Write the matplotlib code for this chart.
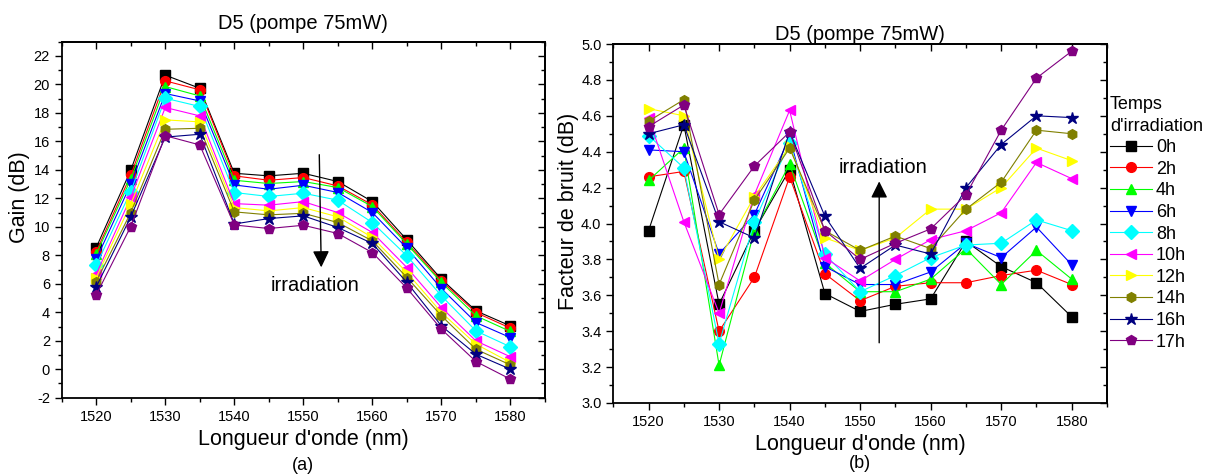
import matplotlib.pyplot as plt

plt.rcParams['font.family'] = ['Liberation Sans', 'DejaVu Sans']
plt.rcParams['axes.unicode_minus'] = False

# wavelengths (nm)
wl = [1520, 1525, 1530, 1535, 1540, 1545, 1550, 1555, 1560, 1565, 1570, 1575, 1580]

labels = ['0h', '2h', '4h', '6h', '8h', '10h', '12h', '14h', '16h', '17h']
colors = ['#000000', '#ff0000', '#00ff00', '#0000ff', '#00ffff',
          '#ff00ff', '#ffff00', '#808000', '#000080', '#800080']
markers = ['s', 'o', '^', 'v', 'D', '<', '>', 'h', '*', 'p']

# Gain (dB) - graphe (a)
gain_0h = [8.54, 13.97, 20.65, 19.73, 13.76, 13.58, 13.76, 13.18, 11.77, 9.08, 6.32, 4.10, 3.04]
gain_2h = [8.26, 13.62, 20.25, 19.62, 13.58, 13.27, 13.46, 12.87, 11.54, 8.90, 6.20, 3.98, 2.88]
gain_4h = [8.08, 13.34, 19.85, 19.19, 13.27, 13.04, 13.18, 12.76, 11.42, 8.78, 6.09, 3.75, 2.65]
gain_6h = [7.72, 12.99, 19.36, 18.84, 12.94, 12.64, 12.92, 12.41, 11.00, 8.50, 5.66, 3.28, 2.22]
gain_8h = [7.30, 12.48, 19.03, 18.45, 12.41, 12.13, 12.36, 11.87, 10.30, 7.96, 5.15, 2.69, 1.57]
gain_10h = [6.67, 12.06, 18.38, 17.79, 11.63, 11.52, 11.77, 11.00, 9.60, 7.14, 4.33, 1.99, 0.87]
gain_12h = [6.44, 11.59, 17.51, 17.37, 11.35, 11.12, 11.35, 10.70, 9.25, 6.79, 3.98, 1.76, 0.47]
gain_14h = [6.16, 11.00, 16.85, 16.92, 11.05, 10.84, 10.95, 10.30, 9.01, 6.44, 3.75, 1.40, 0.30]
gain_16h = [5.78, 10.70, 16.30, 16.50, 10.20, 10.58, 10.77, 9.95, 8.83, 6.09, 3.04, 1.05, 0.00]
gain_17h = [5.22, 10.02, 16.40, 15.75, 10.13, 9.88, 10.11, 9.53, 8.19, 5.69, 2.81, 0.54, -0.70]

# Facteur de bruit (dB) - graphe (b)
nf_0h = [3.96, 4.55, 3.55, 3.96, 4.30, 3.61, 3.51, 3.55, 3.58, 3.90, 3.76, 3.67, 3.48]
nf_2h = [4.26, 4.29, 3.40, 3.70, 4.26, 3.72, 3.57, 3.65, 3.67, 3.67, 3.71, 3.74, 3.66]
nf_4h = [4.24, 4.42, 3.21, 3.96, 4.33, 3.78, 3.62, 3.62, 3.69, 3.86, 3.66, 3.85, 3.69]
nf_6h = [4.41, 4.40, 3.83, 4.05, 4.48, 3.76, 3.66, 3.66, 3.73, 3.89, 3.81, 3.98, 3.77]
nf_8h = [4.49, 4.31, 3.33, 4.01, 4.45, 3.83, 3.62, 3.71, 3.81, 3.88, 3.89, 4.02, 3.96]
nf_10h = [4.59, 4.01, 3.50, 4.16, 4.63, 3.81, 3.68, 3.80, 3.91, 3.96, 4.06, 4.34, 4.25]
nf_12h = [4.64, 4.60, 3.80, 4.15, 4.43, 3.92, 3.85, 3.92, 4.08, 4.08, 4.20, 4.42, 4.35]
nf_14h = [4.57, 4.69, 3.66, 4.13, 4.42, 3.96, 3.85, 3.93, 3.86, 4.08, 4.23, 4.52, 4.50]
nf_16h = [4.50, 4.55, 4.01, 3.92, 4.51, 4.04, 3.75, 3.88, 3.83, 4.20, 4.44, 4.60, 4.59]
nf_17h = [4.54, 4.66, 4.05, 4.32, 4.51, 3.96, 3.80, 3.89, 3.97, 4.16, 4.52, 4.81, 4.96]

gains = [gain_0h, gain_2h, gain_4h, gain_6h, gain_8h, gain_10h, gain_12h, gain_14h, gain_16h, gain_17h]
nfs = [nf_0h, nf_2h, nf_4h, nf_6h, nf_8h, nf_10h, nf_12h, nf_14h, nf_16h, nf_17h]

fig = plt.figure(figsize=(12.11, 4.75), dpi=100)
ax1 = fig.add_axes([61.7 / 1211, 1 - 397.7 / 475, 483.3 / 1211, 356 / 475])
ax2 = fig.add_axes([613.3 / 1211, 1 - 403 / 475, 493.7 / 1211, 359 / 475])


def draw(ax, data):
    for y, c, m, lab in zip(data, colors, markers, labels):
        ms = 9 if m == '*' else 7
        ax.plot(wl, y, color=c, marker=m, ms=ms, mec=c, mfc=c, lw=0.8, label=lab)


def style(ax):
    ax.set_xlim(1515, 1585)
    ax.set_xticks([1520, 1530, 1540, 1550, 1560, 1570, 1580])
    ax.set_xticks([1515, 1525, 1535, 1545, 1555, 1565, 1575, 1585], minor=True)
    ax.tick_params(which='both', direction='out', top=False, right=False, labelsize=10.5, width=1)
    ax.tick_params(which='major', length=5)
    ax.tick_params(which='minor', length=3)
    for s in ax.spines.values():
        s.set_linewidth(1.3)
    # ticks inward on top / right
    sec_x = ax.secondary_xaxis('top')
    sec_x.set_xticks(ax.get_xticks())
    sec_x.set_xticks(ax.get_xticks(minor=True), minor=True)
    sec_x.tick_params(which='both', direction='in', labeltop=False, width=1)
    sec_x.tick_params(which='major', length=5)
    sec_x.tick_params(which='minor', length=3)
    sec_x.spines['top'].set_linewidth(1.3)
    sec_y = ax.secondary_yaxis('right')
    sec_y.set_yticks(ax.get_yticks())
    sec_y.set_yticks(ax.get_yticks(minor=True), minor=True)
    sec_y.tick_params(which='both', direction='in', labelright=False, width=1)
    sec_y.tick_params(which='major', length=5)
    sec_y.tick_params(which='minor', length=3)
    sec_y.spines['right'].set_linewidth(1.3)
    ax.set_xlabel("Longueur d'onde (nm)", fontsize=15.5, labelpad=4)


# (a) gain
draw(ax1, gains)
ax1.set_ylim(-2, 23)
ax1.set_yticks(range(-2, 23, 2))
ax1.set_yticks(range(-1, 24, 2), minor=True)
style(ax1)
ax1.set_ylabel('Gain (dB)', fontsize=15.5)
ax1.yaxis.set_label_coords(-0.066, 0.564)
ax1.set_title('D5 (pompe 75mW)', fontsize=14.5, pad=9)
ax1.annotate('', xy=(1552.6, 6.96), xytext=(1552.3, 15.26),
             arrowprops=dict(arrowstyle='-|>', color='black', lw=1, mutation_scale=25))
ax1.text(1551.7, 5.9, 'irradiation', fontsize=14.5, ha='center', va='center')
ax1.text(0.5, -0.19, '(a)', transform=ax1.transAxes, fontsize=13, ha='center', va='center')

# (b) facteur de bruit
draw(ax2, nfs)
ax2.set_ylim(3.0, 5.0)
ax2.set_yticks([3.0 + 0.2 * i for i in range(11)])
ax2.set_yticks([3.1 + 0.2 * i for i in range(10)], minor=True)
ax2.set_yticklabels(['%.1f' % (3.0 + 0.2 * i) for i in range(11)])
style(ax2)
ax2.set_ylabel('Facteur de bruit (dB)', fontsize=15.5)
ax2.yaxis.set_label_coords(-0.069, 0.533)
ax2.set_title('D5 (pompe 75mW)', fontsize=14.5, pad=3)
ax2.annotate('', xy=(1552.7, 4.25), xytext=(1552.7, 3.32),
             arrowprops=dict(arrowstyle='-|>', color='black', lw=1, mutation_scale=25))
ax2.text(1553.2, 4.31, 'irradiation', fontsize=14.5, ha='center', va='center')
ax2.text(0.5, -0.168, '(b)', transform=ax2.transAxes, fontsize=13, ha='center', va='center')

leg = ax2.legend(title="Temps\nd'irradiation", loc='upper left',
                 bbox_to_anchor=(1110 / 1211, 1 - 96 / 475), bbox_transform=fig.transFigure,
                 frameon=False, borderpad=0, fontsize=13, title_fontsize=13,
                 handlelength=2.3, handletextpad=0.25, labelspacing=0.255,
                 borderaxespad=0, alignment='left')
leg.get_title().set_linespacing(1.35)

fig.savefig('out.png', dpi=100)
